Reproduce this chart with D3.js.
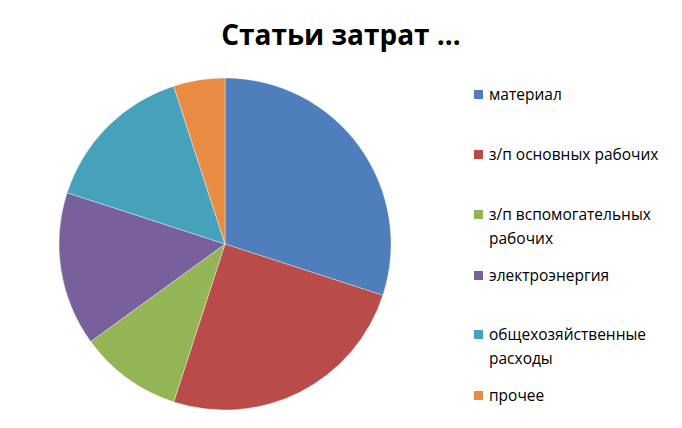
<!DOCTYPE html>
<html>
<head>
<meta charset="utf-8">
<script src="https://cdn.jsdelivr.net/npm/d3@7"></script>
<style>
  body { margin: 0; background: #fff; }
  svg { display: block; }
</style>
</head>
<body>
<div id="root"></div>
<script>
// data
var categories = ["материал", "з/п основных рабочих", "з/п вспомогательных рабочих",
                  "электроэнергия", "общехозяйственные расходы", "прочее"];
var values = [30, 25, 10, 15, 15, 5];
var legendLines = [["материал"], ["з/п основных рабочих"], ["з/п вспомогательных", "рабочих"],
                   ["электроэнергия"], ["общехозяйственные", "расходы"], ["прочее"]];
var colors = ["#4e7ebb", "#b94b48", "#94b556", "#77609b", "#45a2ba", "#e98c43"];

var width = 682, height = 428;

var svg = d3.select("#root")
            .append("svg")
            .attr("width", width)
            .attr("height", height);

// title
svg.append("text")
   .attr("x", 341)
   .attr("y", 45)
   .attr("text-anchor", "middle")
   .style("font-family", "'Open Sans', sans-serif")
   .style("font-weight", "bold")
   .style("font-size", "28px")
   .text("Статьи затрат …");

// pie
var radius = 166;
var g = svg.append("g")
           .attr("transform", "translate(225,244)");

var pie = d3.pie().sort(null).value(function (d) { return d; });
var arc = d3.arc().innerRadius(0).outerRadius(radius);

g.selectAll("path")
 .data(pie(values))
 .enter()
 .append("path")
   .attr("d", arc)
   .style("fill", function (d, i) { return colors[i]; })
   .style("stroke", "#ffffff")
   .style("stroke-opacity", 0.45)
   .style("stroke-width", 0.8);

// legend
var legendY = [95, 155, 215, 276, 335, 396];
var legend = svg.append("g")
  .selectAll("g")
  .data(categories)
  .enter()
  .append("g")
    .attr("transform", function (d, i) { return "translate(474," + legendY[i] + ")"; });

legend.append("rect")
  .attr("x", 0)
  .attr("y", -5)
  .attr("width", 9)
  .attr("height", 9)
  .style("fill", function (d, i) { return colors[i]; });

legend.append("text")
  .style("font-family", "'Open Sans', sans-serif")
  .style("font-size", "15.5px")
  .style("fill", "#000")
  .selectAll("tspan")
  .data(function (d, i) { return legendLines[i]; })
  .enter()
  .append("tspan")
    .attr("x", 15)
    .attr("y", function (d, j) { return 5 + j * 24; })
    .text(function (d) { return d; });
</script>
</body>
</html>
